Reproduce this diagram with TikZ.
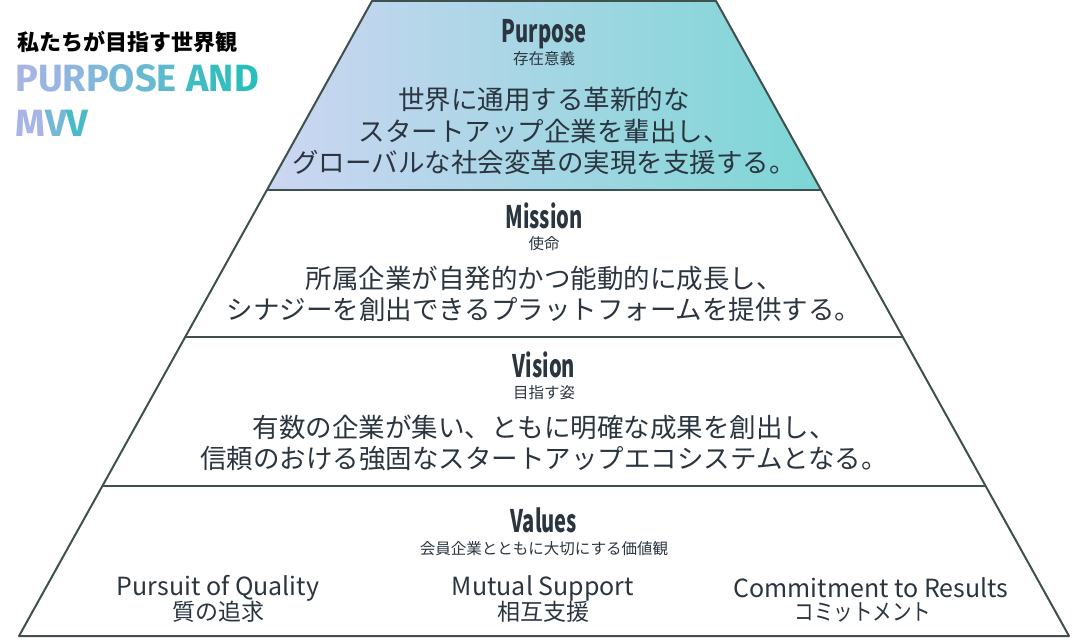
\documentclass[tikz,border=0pt]{standalone}
\usepackage{fontspec}
\usepackage{graphicx}
\setmainfont{Noto Sans CJK JP}
\newfontfamily\titlefont{Fira Sans}[LetterSpace=1.5]
\usetikzlibrary{positioning}
\definecolor{pyrline}{RGB}{62,81,77}
\definecolor{textdark}{RGB}{43,53,64}
\definecolor{toplav}{RGB}{205,214,242}
\definecolor{topteal}{RGB}{124,214,214}
\definecolor{titlelav}{RGB}{167,180,232}
\definecolor{titleteal}{RGB}{40,190,188}
\newcommand{\narrowhead}[1]{\scalebox{0.65}[1]{#1}}
\newcommand{\gc}[2]{{\color{titleteal!#1!titlelav}#2}}

\begin{document}
\begin{tikzpicture}[x=1pt, y=-1pt,
        tiername/.style={font=\fontsize{31}{31}\selectfont\bfseries, text=textdark, inner sep=0pt, anchor=base},
        tiersub/.style={font=\fontsize{15.5}{15.5}\selectfont, text=textdark, inner sep=0pt},
        tierbody/.style={font=\fontsize{26.5}{31.5}\selectfont, text=textdark, align=center, inner sep=0pt},
        valname/.style={font=\fontsize{25}{25}\selectfont, text=textdark, inner sep=0pt},
        valjp/.style={font=\fontsize{23}{23}\selectfont, text=textdark, inner sep=0pt},
        pyr/.style={draw=pyrline, line width=2pt, line join=round},
    ]
    \useasboundingbox (0,0) rectangle (1073,642);

    % pyramid corners
    \coordinate (tl) at (372,1);
    \coordinate (tr) at (716,1);
    \coordinate (bl) at (19,636);
    \coordinate (br) at (1069,636);

    % top tier shading
    \shade[left color=toplav, right color=topteal] (tl) -- (tr) -- (821,190) -- (267,190) -- cycle;

    % outline and tier lines
    \draw[pyr] (tl) -- (tr) -- (br) -- (bl) -- cycle;
    \draw[pyr] (267,190) -- (821,190);
    \draw[pyr] (185,337) -- (903,337);
    \draw[pyr] (102,486) -- (986,486);

    % title
    \node[anchor=west, inner sep=0pt, font=\fontsize{22}{22}\selectfont\bfseries] (title) at (17,42) {私たちが目指す世界観};
    \node[anchor=west, inner sep=0pt, font=\titlefont\fontsize{38}{38}\selectfont\bfseries] (titleen) at (15,78)
        {\gc{0}{P}\gc{10}{U}\gc{20}{R}\gc{30}{P}\gc{40}{O}\gc{50}{S}\gc{60}{E} \gc{80}{A}\gc{90}{N}\gc{100}{D}};
    \node[anchor=west, inner sep=0pt, font=\titlefont\fontsize{38}{38}\selectfont\bfseries] (titlemvv) at (15,123)
        {\gc{0}{M}\gc{40}{V}\gc{75}{V}};

    % Purpose
    \node[tiername] (purpose) at (544,43) {\narrowhead{Purpose}};
    \node[tiersub] (purposesub) at (544,59) {存在意義};
    \node[tierbody] (purposetxt) at (544,131) {世界に通用する革新的な\\スタートアップ企業を輩出し、\\グローバルな社会変革の実現を支援する。};

    % Mission
    \node[tiername] (mission) at (544,228) {\narrowhead{Mission}};
    \node[tiersub] (missionsub) at (544,244) {使命};
    \node[tierbody] (missiontxt) at (544,294) {所属企業が自発的かつ能動的に成長し、\\シナジーを創出できるプラットフォームを提供する。};

    % Vision
    \node[tiername] (vision) at (544,377) {\narrowhead{Vision}};
    \node[tiersub] (visionsub) at (544,393) {目指す姿};
    \node[tierbody] (visiontxt) at (544,443) {有数の企業が集い、ともに明確な成果を創出し、\\信頼のおける強固なスタートアップエコシステムとなる。};

    % Values
    \node[tiername] (values) at (544,532) {\narrowhead{Values}};
    \node[tiersub] (valuessub) at (544,549) {会員企業とともに大切にする価値観};

    \node[valname] (quality) at (218,588) {Pursuit of Quality};
    \node[valjp] (qualityjp) at (218,612) {質の追求};
    \node[valname] (support) at (543,588) {Mutual Support};
    \node[valjp] (supportjp) at (543,612) {相互支援};
    \node[valname] (results) at (871,588) {Commitment to Results};
    \node[valjp] (resultsjp) at (863,612) {\scalebox{0.85}[1]{コミットメント}};
\end{tikzpicture}
\end{document}
